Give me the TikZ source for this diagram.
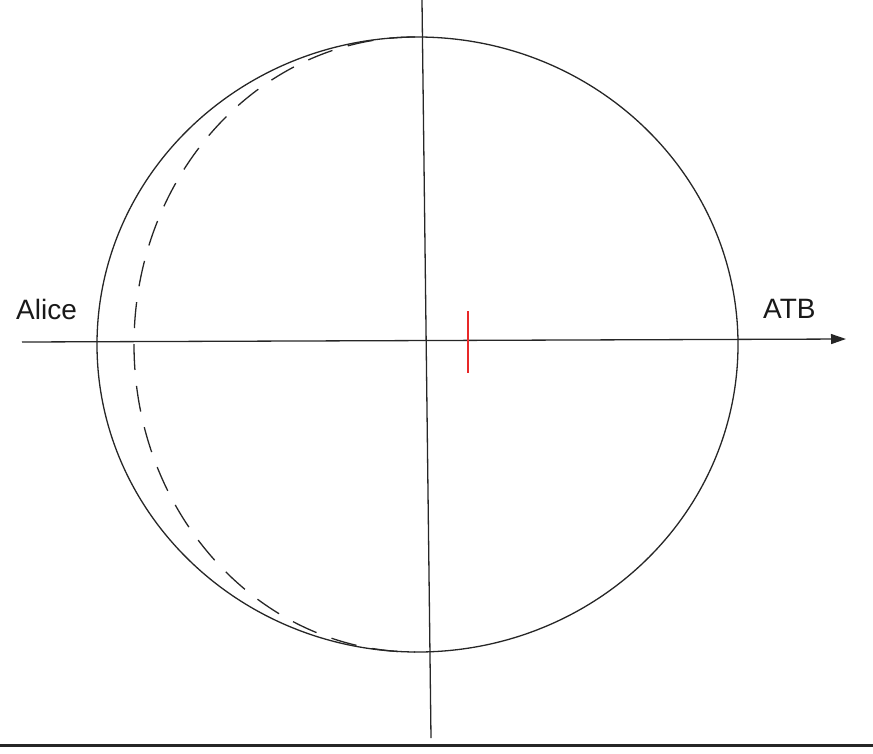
\documentclass[tikz,border=0pt]{standalone}
\usepackage{fontspec}
\setmainfont{Liberation Sans}
\usetikzlibrary{arrows.meta}
\begin{document}
\begin{tikzpicture}[x=1pt,y=-1pt,
  line/.style={line width=1.3pt, draw=black!85},
  lbl/.style={inner sep=0pt, anchor=base west, font=\fontsize{28}{30}\selectfont, text=black!90}]
\useasboundingbox (0,0) rectangle (873,753);
% circle
\draw[line] (417.5,344.5) ellipse [x radius=320.5, y radius=307.5];
% dashed half-ellipse
\draw[line, dash pattern=on 26pt off 16pt] (415,37) arc [start angle=-90, end angle=-270, x radius=281, y radius=307.5];
% axes
\coordinate (xs) at (22,342);
\coordinate (xe) at (846,339);
\draw[line, -{Triangle[length=15pt,width=10pt]}] (xs) -- (xe);
\coordinate (ys) at (422,0);
\coordinate (ye) at (431,738);
\draw[line] (ys) -- (ye);
% red tick
\coordinate (ra) at (468,311);
\coordinate (rb) at (468,373);
\draw[line width=1.5pt, draw={rgb,255:red,232;green,40;blue,40}] (ra) -- (rb);
% labels
\node[lbl] (alice) at (16,319) {Alice};
\node[lbl] (atb) at (763,318) {ATB};
% bottom rule
\coordinate (bl) at (0,745.5);
\coordinate (br) at (873,745.5);
\draw[line width=2.5pt, draw=black!85] (bl) -- (br);
\end{tikzpicture}
\end{document}
